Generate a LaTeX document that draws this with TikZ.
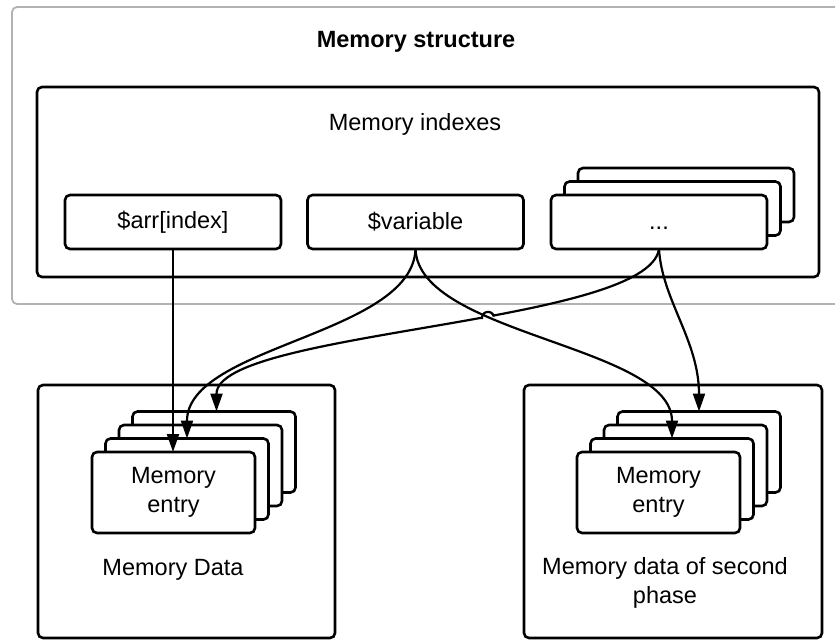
\documentclass[tikz,border=0pt]{standalone}
\usepackage{fontspec}
\setmainfont{Liberation Sans}
\usetikzlibrary{arrows.meta,intersections,calc}
\begin{document}
\begin{tikzpicture}[x=1pt,y=1pt,
  lbl/.style={font=\fontsize{23.5}{29.5}\selectfont, text=black, align=center, inner sep=0pt},
  frame/.style={draw=black, line width=2.6pt, rounded corners=5pt, fill=white, inner sep=0pt, outer sep=0pt},
  keybox/.style={frame, lbl, minimum width=216pt, minimum height=54pt},
  entrybox/.style={frame, lbl, minimum width=163pt, minimum height=81pt},
  group/.style={frame, minimum height=253pt},
  link/.style={line width=2.2pt, -{Triangle[length=18pt,width=12pt]}}]

\useasboundingbox (0,0) rectangle (835,-640);
\fill[white] (0,0) rectangle (835,-640);

% outer structure frame (runs past the right edge)
\node[draw=black!30, line width=1.8pt, rounded corners=5pt, minimum width=848pt,
      minimum height=297pt, inner sep=0pt] (structure) at (436,-155.5) {};
\node[lbl, font=\fontsize{23.5}{29.5}\selectfont\bfseries] (title) at (416,-42) {Memory structure};

% index area
\node[frame, minimum width=782pt, minimum height=190pt] (indexes) at (428,-182) {};
\node[lbl] (indexeslbl) at (415,-124) {Memory indexes};

\node[keybox] (arr) at (173,-222) {\$arr[index]};
\node[keybox] (var) at (415.5,-222) {\$variable};
\node[keybox] (dots2) at (686,-195) {};
\node[keybox] (dots1) at (672.5,-208.5) {};
\node[keybox] (dots) at (659,-222) {\vphantom{\$variable}...};

% data areas
\node[group, minimum width=297pt] (data) at (186.5,-511.5) {};
\node[group, minimum width=298pt] (second) at (673,-511.5) {};

% left stack of entries
\node[entrybox] (le3) at (214,-452) {};
\node[entrybox] (le2) at (200.5,-465.5) {};
\node[entrybox] (le1) at (187,-479) {};
\node[entrybox] (le0) at (173.5,-492.5) {Memory\\entry};
\node[lbl] (datalbl) at (173,-570) {Memory Data};

% right stack of entries
\node[entrybox] (re3) at (699,-452) {};
\node[entrybox] (re2) at (685.5,-465.5) {};
\node[entrybox] (re1) at (672,-479) {};
\node[entrybox] (re0) at (658.5,-492.5) {Memory\\entry};
\node[lbl] (secondlbl) at (665,-583) {Memory data of second\\phase};

% crossing point of the two curved links
\path[name path=vr] (var.south) .. controls +(3,-86) and +(0,93) .. (re1.north);
\path[name path=dl] (dots.south) .. controls +(-11,-76) and +(0,81) .. ([xshift=2.5pt]le3.north);
\path[name intersections={of=vr and dl, by=hop}];

% links
\draw[link] (arr.south) -- (arr.south |- le0.north);
\draw[link] (var.south) .. controls +(-3,-86) and +(0,93) .. (le1.north);
\draw[link] (dots.south) .. controls +(3,-51) and +(0,71) .. (re3.north);
\draw[link] (dots.south) .. controls +(-11,-76) and +(0,81) .. ([xshift=2.5pt]le3.north);
\fill[white] (hop) circle[radius=6pt];
\draw[link] (var.south) .. controls +(3,-86) and +(0,93) .. (re1.north);
\draw[line width=2.2pt] ($(hop)+(12:6)$) arc[start angle=12, end angle=192, radius=6];
\end{tikzpicture}
\end{document}
